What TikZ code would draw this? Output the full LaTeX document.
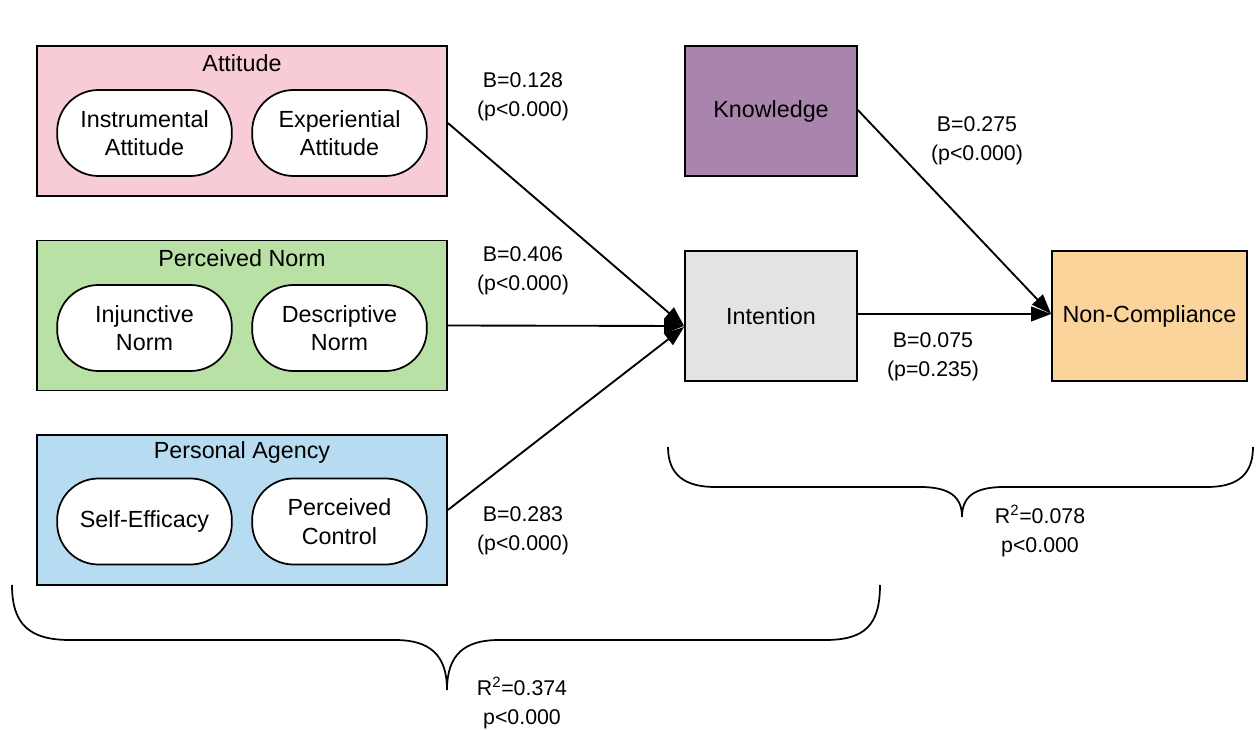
\documentclass[tikz,border=0pt]{standalone}
\usepackage{fontspec}
\setmainfont{Liberation Sans}
\usetikzlibrary{arrows.meta,calc}
\definecolor{attpink}{HTML}{F8CCD7}
\definecolor{normgreen}{HTML}{B9E0A5}
\definecolor{agblue}{HTML}{B7DCF2}
\definecolor{knowpurple}{HTML}{A985AD}
\definecolor{intgray}{HTML}{E3E3E3}
\definecolor{ncorange}{HTML}{FAD49B}
\begin{document}
\begin{tikzpicture}[x=0.75pt,y=-0.75pt,
  font=\fontsize{17.5pt}{21.5pt}\selectfont,
  group/.style={draw=black,line width=1.3pt,minimum width=307.5pt,minimum height=112.5pt,inner sep=0pt},
  pill/.style={draw=black,line width=1.3pt,fill=white,minimum width=131pt,minimum height=64.5pt,rounded corners=31pt,align=center,inner sep=0pt},
  bigbox/.style={draw=black,line width=1.3pt,minimum height=97.5pt,inner sep=0pt,align=center},
  title/.style={inner sep=0pt},
  lbl/.style={align=center,inner sep=0pt,font=\fontsize{16pt}{21.5pt}\selectfont},
  arr/.style={line width=1.4pt,-{Triangle[length=15pt,width=11pt]}},
  brace/.style={line width=1.3pt}]
\useasboundingbox (0,0) rectangle (1257,730);
\fill[white] (0,0) rectangle (1257,730);

% groups
\node[group,fill=attpink] (att) at (242,121) {};
\node[title] (atttitle) at (242,63) {Attitude};
\node[pill] (instr) at (144.5,133) {Instrumental\\Attitude};
\node[pill] (exper) at (339.5,133) {Experiential\\Attitude};

\node[group,fill=normgreen] (norm) at (242,315.5) {};
\node[title] (normtitle) at (242,258) {Perceived Norm};
\node[pill] (inj) at (144.5,328) {Injunctive\\Norm};
\node[pill] (desc) at (339.5,328) {Descriptive\\Norm};

\node[group,fill=agblue] (agency) at (242,510) {};
\node[title] (agtitle) at (242,452) {Personal Agency};
\node[pill] (selfeff) at (144.5,521.5) {Self-Efficacy};
\node[pill] (pcontrol) at (339.5,521.5) {Perceived\\Control};

% right boxes
\node[bigbox,fill=knowpurple,minimum width=129pt] (know) at (771,111) {Knowledge};
\node[bigbox,fill=intgray,minimum width=129pt] (int) at (771,316) {Intention};
\node[bigbox,fill=ncorange,minimum width=146.25pt] (nc) at (1149.5,316) {Non-Compliance};

% arrows
\draw[arr] ($(att.east)+(0,2)$) -- ($(int.west)+(0,10)$);
\draw[arr] ($(norm.east)+(0,10)$) -- ($(int.west)+(0,10)$);
\draw[arr] ($(agency.east)+(0,0)$) -- ($(int.west)+(0,11)$);
\draw[arr] ($(know.east)+(0,-1)$) -- ($(nc.west)+(0,-2)$);
\draw[arr] ($(int.east)+(0,-2)$) -- ($(nc.west)+(0,-2)$);

% labels
\node[lbl] (l1) at (523,97) {B=0.128\\(p<0.000)};
\node[lbl] (l2) at (523,271) {B=0.406\\(p<0.000)};
\node[lbl] (l3) at (523,531) {B=0.283\\(p<0.000)};
\node[lbl] (l4) at (977,141) {B=0.275\\(p<0.000)};
\node[lbl] (l5) at (933,357) {B=0.075\\(p=0.235)};
\node[lbl] (l6) at (1040,531) {R\textsuperscript{2}=0.078\\p<0.000};
\node[lbl] (l7) at (522,703) {R\textsuperscript{2}=0.374\\p<0.000};

% braces
\draw[brace] (12,585) .. controls (12,625) and (30,640) .. (70,640) -- (395,640)
  .. controls (430,640) and (447,655) .. (447,690)
  .. controls (447,655) and (464,640) .. (499,640) -- (825,640)
  .. controls (865,640) and (880,625) .. (880,585);
\draw[brace] (668,447) .. controls (668,475) and (685,487) .. (715,487) -- (920,487)
  .. controls (950,487) and (962,497) .. (962,517)
  .. controls (962,497) and (974,487) .. (1004,487) -- (1207,487)
  .. controls (1237,487) and (1253,475) .. (1253,447);
\end{tikzpicture}
\end{document}
